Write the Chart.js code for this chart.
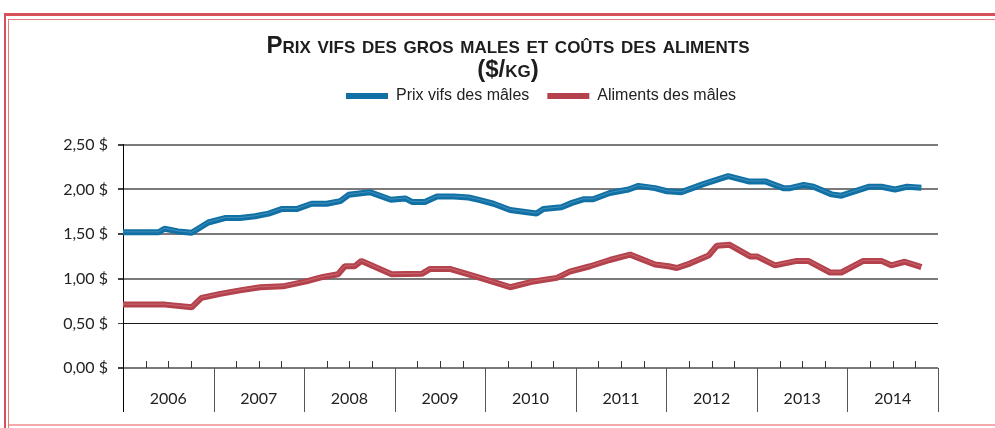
<!DOCTYPE html>
<html lang="fr">
<head>
<meta charset="utf-8">
<title>Prix vifs des gros mâles et coûts des aliments</title>
<script src="https://cdn.jsdelivr.net/npm/chart.js@4.4.1/dist/chart.umd.min.js"></script>
<style>
  html, body { margin: 0; padding: 0; background: #fff; }
  #wrap { position: relative; width: 995px; height: 428px; overflow: hidden; }
  .frame-outer { position: absolute; left: 4px; top: 13px; width: 1000px; height: 420px;
    border-top: 3px solid #d8505a; border-left: 2px solid #d8505a; }
  .frame-inner { position: absolute; left: 8px; top: 19px; width: 1000px; height: 420px;
    border-top: 1px solid #e77b82; border-left: 1px solid #e77b82; }
  .frame-bottom { position: absolute; left: 9px; top: 424px; width: 990px; height: 2px; background: #f4a9ad; }
  canvas { position: absolute; left: 0; top: 0; }
</style>
</head>
<body>
<div id="wrap">
  <div class="frame-outer"></div>
  <div class="frame-inner"></div>
  <div class="frame-bottom"></div>
  <canvas id="chart" width="995" height="428"></canvas>
</div>
<script>
// years shown on the axis, x values are months since january 2006
const years = ["2006", "2007", "2008", "2009", "2010", "2011", "2012", "2013", "2014"];
const yTicks = [0, 0.5, 1, 1.5, 2, 2.5];

const seriesNames = ["Prix vifs des mâles", "Aliments des mâles"];

const maleMonths = [0, 4.7, 5.5, 7.3, 9.1, 11.3, 13.5, 15.5, 17.5, 19.3, 21.0, 23.0, 25.0, 27.0, 28.8, 29.9, 32.7, 35.5, 37.4, 38.3,
    40.0, 41.6, 43.8, 45.8, 47.3, 49.1, 51.3, 54.8, 55.7, 58.1, 59.5, 61.0, 62.3, 64.5, 67.0, 68.3, 70.5, 72.1, 74.0, 76.9,
    80.2, 82.9, 85.1, 87.5, 88.4, 90.2, 91.5, 93.9, 95.2, 98.8, 100.5, 102.3, 103.9, 105.8];
const malePrices = [1.52, 1.52, 1.56, 1.53, 1.515, 1.63, 1.68, 1.68, 1.70, 1.73, 1.78, 1.78, 1.84, 1.84, 1.87, 1.94, 1.97, 1.885, 1.90, 1.86,
    1.86, 1.92, 1.92, 1.91, 1.88, 1.84, 1.77, 1.73, 1.78, 1.80, 1.85, 1.89, 1.89, 1.96, 2.00, 2.04, 2.015, 1.98, 1.97, 2.06,
    2.15, 2.09, 2.09, 2.015, 2.015, 2.05, 2.03, 1.945, 1.93, 2.03, 2.03, 2.00, 2.03, 2.02];

const feedMonths = [0, 5.6, 9.1, 10.4, 12.9, 15.5, 18.2, 21.2, 24.3, 26.5, 28.5, 29.4, 30.7, 31.6, 35.6, 39.6, 40.7, 43.3, 46.9, 51.3,
    54.4, 57.5, 59.2, 61.9, 64.5, 67.2, 70.5, 72.3, 73.4, 75.1, 77.6, 78.7, 80.4, 83.1, 84.0, 86.4, 89.3, 90.8, 93.7, 95.2,
    98.1, 100.5, 101.8, 103.6, 105.1, 105.8];
const feedCosts = [0.71, 0.71, 0.68, 0.785, 0.83, 0.87, 0.905, 0.915, 0.97, 1.02, 1.05, 1.14, 1.14, 1.20, 1.05, 1.055, 1.11, 1.11, 1.02, 0.905,
    0.97, 1.01, 1.08, 1.14, 1.21, 1.27, 1.16, 1.14, 1.12, 1.17, 1.26, 1.37, 1.38, 1.25, 1.25, 1.15, 1.20, 1.20, 1.07, 1.07,
    1.20, 1.20, 1.15, 1.19, 1.15, 1.13];

const toPoints = (xs, ys) => xs.map((m, i) => ({ x: m, y: ys[i] }));
const lastMonth = years.length * 12;

// year boxes under the axis + small quarter marks above it
const axisMarks = {
    id: "axisMarks",
    beforeDatasetsDraw(chart) {
        const { ctx, chartArea } = chart;
        const x = chart.scales.x;
        ctx.save();
        ctx.lineWidth = 1;
        for (let m = 0; m <= lastMonth; m += 3) {
            const px = Math.round(x.getPixelForValue(m)) + 0.5;
            ctx.beginPath();
            if (m % 12 === 0) {
                ctx.strokeStyle = m === 0 ? "#000" : "#555";
                ctx.moveTo(px, chartArea.bottom);
                ctx.lineTo(px, chartArea.bottom + 44);
            } else {
                ctx.strokeStyle = "#333";
                ctx.moveTo(px, chartArea.bottom - 7);
                ctx.lineTo(px, chartArea.bottom);
            }
            ctx.stroke();
        }
        ctx.restore();
    }
};

// faint light streak along each thick line
const shine = {
    id: "shine",
    afterDatasetsDraw(chart) {
        const ctx = chart.ctx;
        chart.data.datasets.forEach((ds, i) => {
            const pts = chart.getDatasetMeta(i).data;
            ctx.save();
            ctx.strokeStyle = ds.shineColor;
            ctx.lineWidth = 1;
            ctx.lineJoin = "bevel";
            ctx.beginPath();
            pts.forEach((p, j) => j ? ctx.lineTo(p.x, p.y - 0.5) : ctx.moveTo(p.x, p.y - 0.5));
            ctx.stroke();
            ctx.restore();
        });
    }
};

// title and legend are not centred on the same point in the original
const placeBoxes = {
    id: "placeBoxes",
    beforeDraw(chart) {
        const t = chart.titleBlock, l = chart.legend;
        t.left = 508 - 400; t.right = 508 + 400; t.top = 35;
        l.left = 541 - 400; l.right = 541 + 400; l.top = 70;
    }
};

new Chart(document.getElementById("chart"), {
    type: "line",
    data: {
        datasets: [
            {
                label: seriesNames[0],
                data: toPoints(maleMonths, malePrices),
                borderColor: "#1170a4",
                backgroundColor: "#1170a4",
                shineColor: "rgba(110,175,215,0.5)",
                borderWidth: 6,
                borderJoinStyle: "bevel",
                pointRadius: 0,
                tension: 0
            },
            {
                label: seriesNames[1],
                data: toPoints(feedMonths, feedCosts),
                borderColor: "#b3424c",
                backgroundColor: "#b3424c",
                shineColor: "rgba(225,140,146,0.5)",
                borderWidth: 6,
                borderJoinStyle: "bevel",
                pointRadius: 0,
                tension: 0
            }
        ]
    },
    options: {
        responsive: false,
        animation: false,
        layout: { padding: { top: 53.8, right: 57, left: 0, bottom: 0 } },
        plugins: {
            title: {
                display: true,
                text: ["Prix vifs des gros males et coûts des aliments", "($/kg)"],
                color: "#1d1d1d",
                font: { family: "'Liberation Sans Narrow', 'Arial Narrow', sans-serif", size: 24, weight: "small-caps bold", lineHeight: 0.98 },
                padding: { top: 0, bottom: 0 }
            },
            legend: {
                display: true,
                labels: {
                    color: "#222",
                    font: { family: "'Liberation Sans Narrow', 'Arial Narrow', sans-serif", size: 16 },
                    boxWidth: 42,
                    boxHeight: 6,
                    padding: 18,
                    generateLabels(chart) {
                        return Chart.defaults.plugins.legend.labels.generateLabels(chart)
                            .map(item => ({ ...item, lineWidth: 0 }));
                    }
                }
            },
            tooltip: { enabled: false }
        },
        scales: {
            x: {
                type: "linear",
                min: 0,
                max: lastMonth,
                afterBuildTicks(scale) {
                    scale.ticks = years.map((y, i) => ({ value: 6 + 12 * i }));
                },
                afterFit(scale) { scale.height = 60; },
                ticks: {
                    autoSkip: false,
                    maxRotation: 0,
                    padding: 13,
                    color: "#222",
                    font: { family: "Lato", size: 16 },
                    callback: v => years[Math.round((v - 6) / 12)]
                },
                grid: { display: false },
                border: { display: false }
            },
            y: {
                min: 0,
                max: 2.5,
                afterBuildTicks(scale) {
                    scale.ticks = yTicks.map(v => ({ value: v }));
                },
                afterFit(scale) { scale.width = 123; },
                ticks: {
                    padding: 10,
                    color: "#222",
                    font: { family: "Lato", size: 16 },
                    callback: v => v.toFixed(2).replace(".", ",") + " $"
                },
                grid: {
                    color: c => c.tick && c.tick.value === 0.5 ? "#1a1a1a" : "#7a7a7a",
                    lineWidth: c => c.tick && c.tick.value === 0.5 ? 1 : 2,
                    tickLength: 5,
                    tickColor: "#444"
                },
                border: { color: "#000", width: 1 }
            }
        }
    },
    plugins: [axisMarks, shine, placeBoxes]
});
</script>
</body>
</html>
